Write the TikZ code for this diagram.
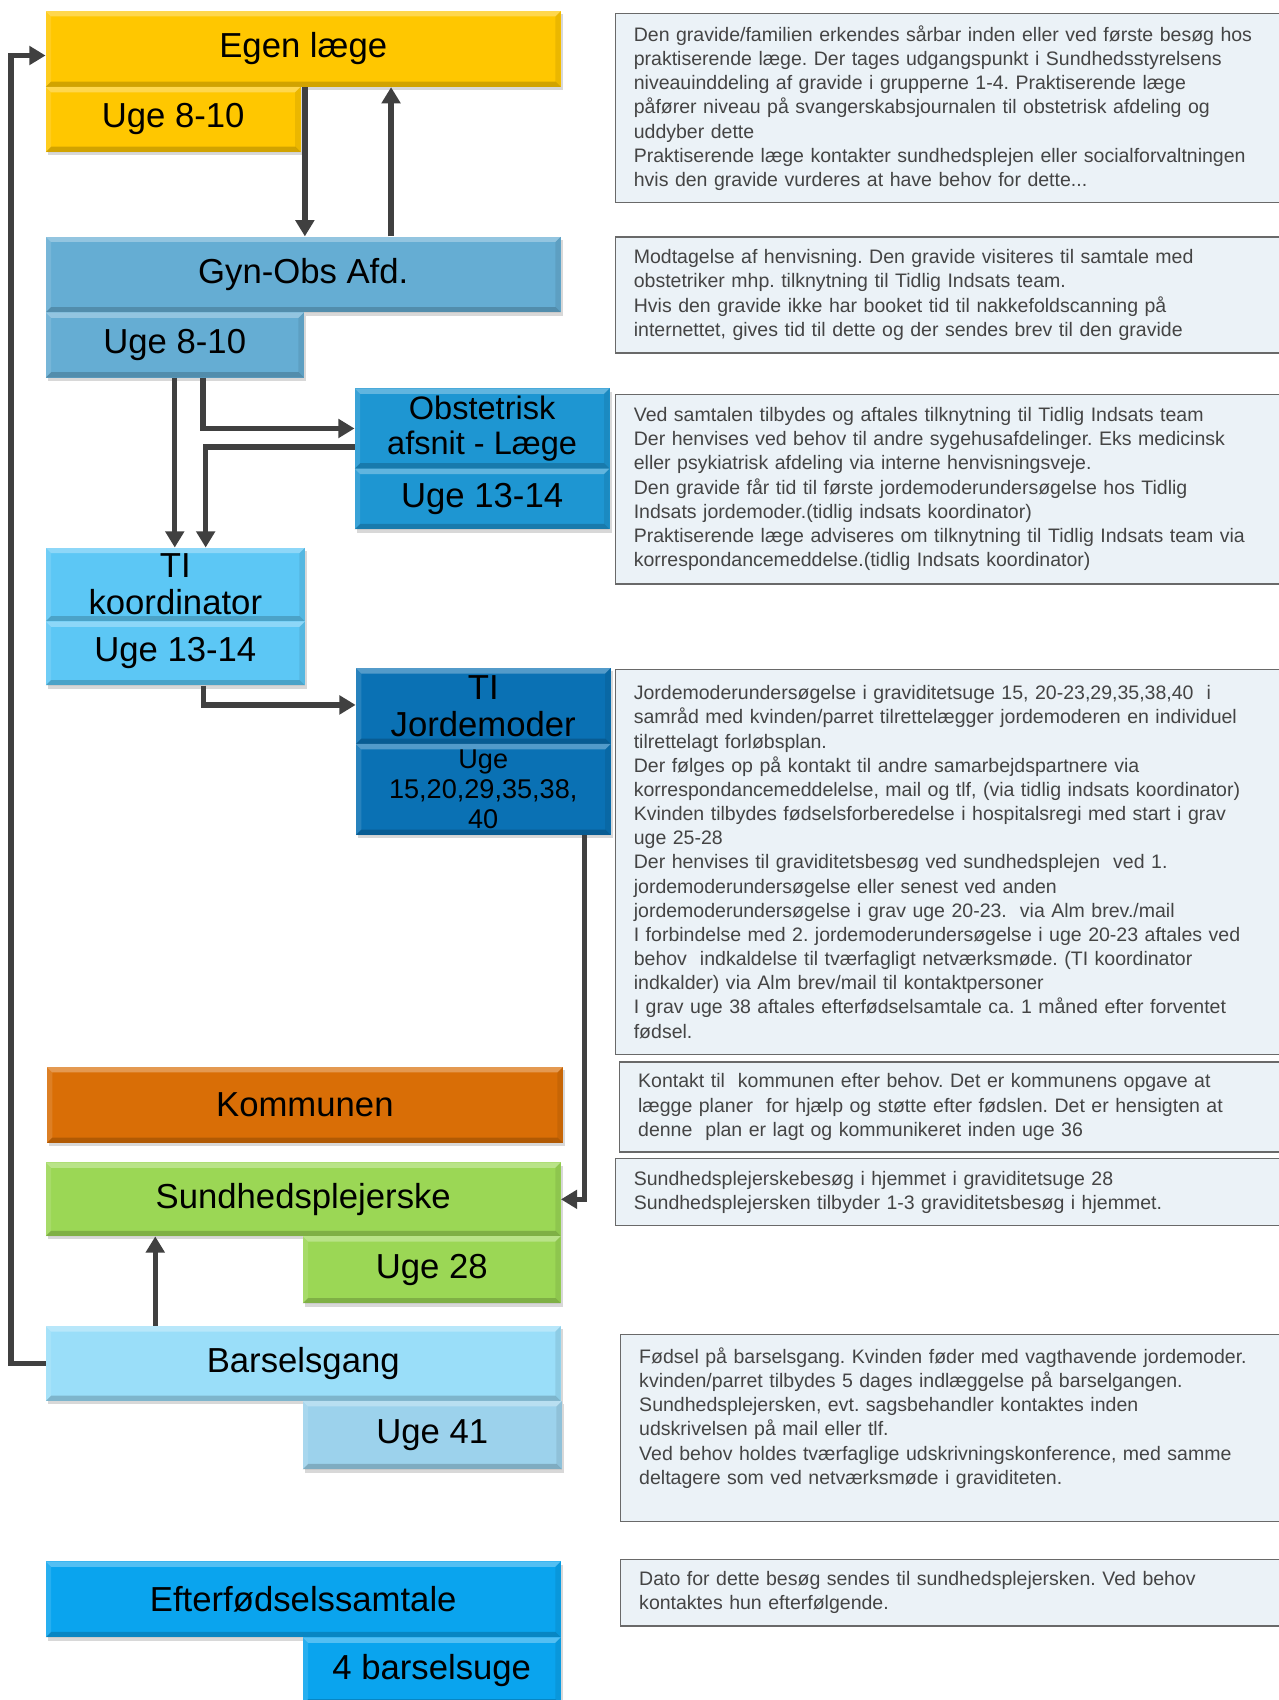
\documentclass[tikz,border=0pt]{standalone}
\usepackage{fontspec}
\setmainfont{Liberation Sans}
\usetikzlibrary{arrows.meta,shadows,calc}
\definecolor{cEgen}{RGB}{255,199,0}
\definecolor{cGyn}{RGB}{101,173,211}
\definecolor{cObst}{RGB}{30,150,210}
\definecolor{cKoord}{RGB}{92,199,245}
\definecolor{cJord}{RGB}{10,113,180}
\definecolor{cKomm}{RGB}{217,110,6}
\definecolor{cSund}{RGB}{155,215,85}
\definecolor{cBars}{RGB}{154,222,249}
\definecolor{cBarsU}{RGB}{156,210,236}
\definecolor{cEfter}{RGB}{10,164,238}
\definecolor{notefill}{RGB}{235,242,247}
\definecolor{notedraw}{RGB}{105,105,105}
\definecolor{notetext}{RGB}{68,68,68}
\definecolor{arrowc}{RGB}{64,64,64}
\frenchspacing
\begin{document}
\begin{tikzpicture}[x=1pt,y=-1pt,
  bevel/.style={path picture={
    \fill[white,opacity=0.3] (path picture bounding box.north west) -- (path picture bounding box.north east) -- ([xshift=-5pt,yshift=-5pt]path picture bounding box.north east) -- ([xshift=5pt,yshift=-5pt]path picture bounding box.north west) -- cycle;
    \fill[white,opacity=0.12] (path picture bounding box.north west) -- ([xshift=5pt,yshift=-5pt]path picture bounding box.north west) -- ([xshift=5pt,yshift=5pt]path picture bounding box.south west) -- (path picture bounding box.south west) -- cycle;
    \fill[black,opacity=0.08] (path picture bounding box.north east) -- ([xshift=-5pt,yshift=-5pt]path picture bounding box.north east) -- ([xshift=-5pt,yshift=5pt]path picture bounding box.south east) -- (path picture bounding box.south east) -- cycle;
    \fill[black,opacity=0.18] (path picture bounding box.south west) -- (path picture bounding box.south east) -- ([xshift=-5pt,yshift=5pt]path picture bounding box.south east) -- ([xshift=5pt,yshift=5pt]path picture bounding box.south west) -- cycle;
  }},
  box/.style={anchor=north west, inner sep=0pt, align=center,
    font=\fontsize{32}{34}\selectfont,
    drop shadow={shadow xshift=2pt,shadow yshift=-3pt,opacity=0.3}, bevel},
  note/.style={anchor=north west, draw=notedraw, line width=1.2pt, fill=notefill,
    text=notetext, align=left, font=\fontsize{18}{22.3}\selectfont,
    inner xsep=17pt, inner ysep=0pt, text width=600pt, minimum width=634pt},
  arr/.style={draw=arrowc, line width=5pt, -{Triangle[width=17pt,length=15pt]}},
]
\useasboundingbox[fill=white] (0,0) rectangle (1179,1568);

% main flow boxes
\node[box, fill=cEgen, minimum width=475pt, minimum height=70pt] (egen) at (42,10) {Egen læge};
\node[box, fill=cEgen, minimum width=235pt, minimum height=60pt] (egenuge) at (42,80) {Uge 8-10};

\node[box, fill=cGyn, minimum width=475pt, minimum height=70pt] (gyn) at (42,218) {Gyn-Obs Afd.};
\node[box, fill=cGyn, minimum width=238pt, minimum height=60pt] (gynuge) at (42,288) {Uge 8-10};

\node[box, fill=cObst, minimum width=235pt, minimum height=74pt, font=\fontsize{30}{32}\selectfont] (obst) at (327,358) {Obstetrisk\\afsnit - Læge};
\node[box, fill=cObst, minimum width=235pt, minimum height=56pt] (obstuge) at (327,432) {Uge 13-14};

\node[box, fill=cKoord, minimum width=239pt, minimum height=68pt, font=\fontsize{32}{34}\selectfont] (koord) at (42,505) {TI\\koordinator};
\node[box, fill=cKoord, minimum width=239pt, minimum height=59pt] (koorduge) at (42,573) {Uge 13-14};

\node[box, fill=cJord, minimum width=235pt, minimum height=70pt, font=\fontsize{32}{34}\selectfont] (jord) at (328,616) {TI\\Jordemoder};
\node[box, fill=cJord, minimum width=235pt, minimum height=84pt, font=\fontsize{25}{27.5}\selectfont] (jorduge) at (328,686) {Uge\\15,20,29,35,38,\\40};

\node[box, fill=cKomm, minimum width=476pt, minimum height=70pt] (komm) at (43,984) {Kommunen};

\node[box, fill=cSund, minimum width=475pt, minimum height=68pt] (sund) at (42,1072) {Sundhedsplejerske};
\node[box, fill=cSund, minimum width=238pt, minimum height=62pt] (sunduge) at (279,1140) {Uge 28};

\node[box, fill=cBars, minimum width=475pt, minimum height=69pt] (bars) at (42,1223) {Barselsgang};
\node[box, fill=cBarsU, minimum width=239pt, minimum height=63pt] (barsuge) at (279,1292) {Uge 41};

\node[box, fill=cEfter, minimum width=475pt, minimum height=70pt] (efter) at (42,1440) {Efterfødselssamtale};
\node[box, fill=cEfter, minimum width=238pt, minimum height=62pt] (efteruge) at (279,1510) {4 barselsuge};

% notes
\node[note, minimum height=174pt] (n1) at (567,12) {Den gravide/familien erkendes sårbar inden eller ved første besøg hos\\
praktiserende læge. Der tages udgangspunkt i Sundhedsstyrelsens\\
niveauinddeling af gravide i grupperne 1-4. Praktiserende læge\\
påfører niveau på svangerskabsjournalen til obstetrisk afdeling og\\
uddyber dette\\
Praktiserende læge kontakter sundhedsplejen eller socialforvaltningen\\
hvis den gravide vurderes at have behov for dette...};

\node[note, minimum height=107pt] (n2) at (567,218) {Modtagelse af henvisning. Den gravide visiteres til samtale med\\
obstetriker mhp. tilknytning til Tidlig Indsats team.\\
Hvis den gravide ikke har booket tid til nakkefoldscanning på\\
internettet, gives tid til dette og der sendes brev til den gravide};

\node[note, minimum height=175pt] (n3) at (567,363) {Ved samtalen tilbydes og aftales tilknytning til Tidlig Indsats team\\
Der henvises ved behov til andre sygehusafdelinger. Eks medicinsk\\
eller psykiatrisk afdeling via interne henvisningsveje.\\
Den gravide får tid til første jordemoderundersøgelse hos Tidlig\\
Indsats jordemoder.(tidlig indsats koordinator)\\
Praktiserende læge adviseres om tilknytning til Tidlig Indsats team via\\
korrespondancemeddelse.(tidlig Indsats koordinator)};

\node[note, minimum height=355pt] (n4) at (567,617) {Jordemoderundersøgelse i graviditetsuge 15, 20-23,29,35,38,40\ \ i\\
samråd med kvinden/parret tilrettelægger jordemoderen en individuel\\
tilrettelagt forløbsplan.\\
Der følges op på kontakt til andre samarbejdspartnere via\\
korrespondancemeddelelse, mail og tlf, (via tidlig indsats koordinator)\\
Kvinden tilbydes fødselsforberedelse i hospitalsregi med start i grav\\
uge 25-28\\
Der henvises til graviditetsbesøg ved sundhedsplejen\ \ ved 1.\\
jordemoderundersøgelse eller senest ved anden\\
jordemoderundersøgelse i grav uge 20-23.\ \ via Alm brev./mail\\
I forbindelse med 2. jordemoderundersøgelse i uge 20-23 aftales ved\\
behov\ \ indkaldelse til tværfagligt netværksmøde. (TI koordinator\\
indkalder) via Alm brev/mail til kontaktpersoner\\
I grav uge 38 aftales efterfødselsamtale ca. 1 måned efter forventet\\
fødsel.};

\node[note, minimum height=83pt, inner xsep=15pt] (n5) at (571,979) {Kontakt til\ \ kommunen efter behov. Det er kommunens opgave at\\
lægge planer\ \ for hjælp og støtte efter fødslen. Det er hensigten at\\
denne\ \ plan er lagt og kommunikeret inden uge 36};

\node[note, minimum height=62pt] (n6) at (567,1068) {Sundhedsplejerskebesøg i hjemmet i graviditetsuge 28\\
Sundhedsplejersken tilbyder 1-3 graviditetsbesøg i hjemmet.};

\node[note, minimum height=173pt] (n7) at (572,1230) {Fødsel på barselsgang. Kvinden føder med vagthavende jordemoder.\\
kvinden/parret tilbydes 5 dages indlæggelse på barselgangen.\\
Sundhedsplejersken, evt. sagsbehandler kontaktes inden\\
udskrivelsen på mail eller tlf.\\
Ved behov holdes tværfaglige udskrivningskonference, med samme\\
deltagere som ved netværksmøde i graviditeten.\\
\mbox{}};

\node[note, minimum height=61pt] (n8) at (572,1438) {Dato for dette besøg sendes til sundhedsplejersken. Ved behov\\
kontaktes hun efterfølgende.};

% connectors
\coordinate (fbx) at (10,0);
\draw[arr] ([xshift=1.5pt]egen.south) -- ([xshift=1.5pt]gyn.north);
\draw[arr] ([xshift=81pt]gyn.north) -- ([xshift=81pt]egen.south);
\draw[arr] (gynuge.south) -- ([xshift=-0.5pt]koord.north);
\draw[arr] ([xshift=26pt]gynuge.south) |- (obst.west);
\draw[arr] ([yshift=-17pt]obst.west) -| ([xshift=28pt]koord.north);
\draw[arr] ([xshift=26pt]koorduge.south) |- ([yshift=1pt]jord.west);
\draw[arr] ([xshift=93.5pt]jorduge.south) |- (sund.east);
\draw[arr] ([xshift=-136.5pt]bars.north) -- ([xshift=-136.5pt]sund.south);
\draw[arr] (bars.west) -- (bars.west -| fbx) |- ([yshift=-6pt]egen.west);
\end{tikzpicture}
\end{document}
